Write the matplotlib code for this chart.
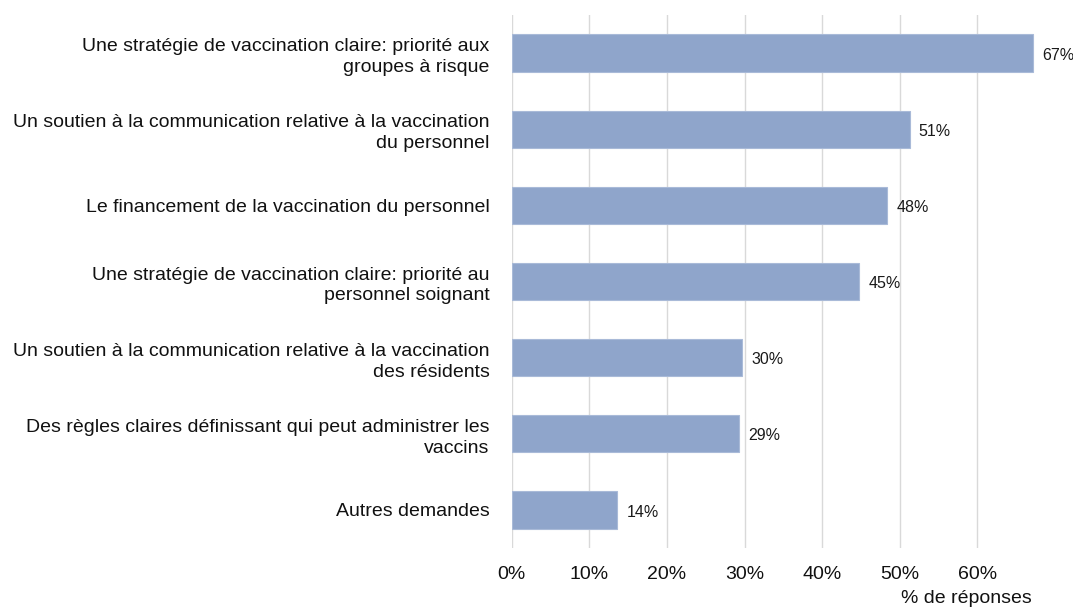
import numpy as np
import matplotlib.pyplot as plt

plt.rcParams['font.family'] = ['Liberation Sans', 'DejaVu Sans']

# Data
labels = ['Une stratégie de vaccination claire: priorité aux\ngroupes à risque',
          'Un soutien à la communication relative à la vaccination\ndu personnel',
          'Le financement de la vaccination du personnel',
          'Une stratégie de vaccination claire: priorité au\npersonnel soignant',
          'Un soutien à la communication relative à la vaccination\ndes résidents',
          'Des règles claires définissant qui peut administrer les\nvaccins',
          'Autres demandes']
values = [67.2, 51.3, 48.4, 44.8, 29.7, 29.3, 13.6]
xticks = [0, 10, 20, 30, 40, 50, 60]

fig = plt.figure(figsize=(10.73, 6.14), dpi=100)
ax = fig.add_axes([0.477, 0.1075, 0.506, 0.868])

y = np.arange(len(labels))
ax.barh(y, values, height=0.49, color='#8FA5CB', edgecolor='#A9BAD8', linewidth=0.8, zorder=3)

for yi, v in zip(y, values):
    ax.annotate(f'{v:.0f}%', (v, yi), xytext=(6.5, -1.5), textcoords='offset points',
                va='center', ha='left', fontsize=11.5, color='#1a1a1a')

ax.set_yticks(y)
ax.set_yticklabels(labels, fontsize=14, color='#111111', linespacing=1.3)
ax.set_ylim(len(labels) - 0.5, -0.5)
ax.set_xlim(0, 70)
ax.set_xticks(xticks)
ax.set_xticklabels([f'{t}%' for t in xticks], fontsize=14, color='#111111')
ax.tick_params(axis='y', length=0, pad=16)
ax.tick_params(axis='x', length=0, pad=13)
ax.grid(axis='x', color='#D9D9D9', linewidth=1, zorder=0)
for s in ax.spines.values():
    s.set_visible(False)

fig.text(0.962, 0.012, '% de réponses', ha='right', va='bottom', fontsize=14, color='#111111')

plt.savefig('out.png', dpi=100)
